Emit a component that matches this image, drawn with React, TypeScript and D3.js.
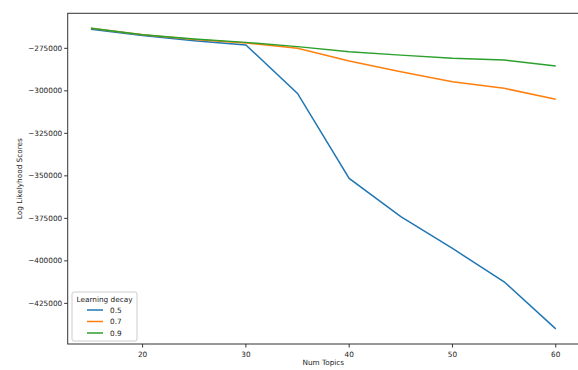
import * as d3 from "d3";

// Log likelihood by number of topics, one line per learning decay.
const numTopics = [15, 20, 25, 30, 35, 40, 45, 50, 55, 60];
const decays = ["0.5", "0.7", "0.9"];
const decay05 = [-263800, -267500, -270500, -273000, -301500, -351500, -374000, -392700, -412300, -440000];
const decay07 = [-263200, -267000, -269800, -271800, -275000, -282500, -288800, -294600, -298500, -305000];
const decay09 = [-263200, -267000, -269500, -271500, -274000, -277000, -279000, -280900, -281900, -285400];
const xTicks = [20, 30, 40, 50, 60];
const yTicks = [-275000, -300000, -325000, -350000, -375000, -400000, -425000];

const COLORS = ["#1f77b4", "#ff7f0e", "#2ca02c"];
const FONT = "DejaVu Sans, sans-serif";

export default function App() {
  const W = 578;
  const H = 370;
  const m = { top: 13.3, right: -1, bottom: 26, left: 67.7 };
  const series = [decay05, decay07, decay09];

  const x = d3.scaleLinear().domain([12.75, 62.25]).range([m.left, W - m.right]);
  const y = d3.scaleLinear().domain([-448900, -254400]).range([H - m.bottom, m.top]);

  const line = d3
    .line<number>()
    .x((_, i) => x(numTopics[i]))
    .y((d) => y(d));

  const fmt = (v: number) => `\u2212${Math.abs(v)}`;
  const bottom = H - m.bottom;

  return (
    <svg
      width={W}
      height={H}
      style={{ position: "absolute", left: 0, top: 0, background: "#fff" }}
      fontFamily={FONT}
    >
      {series.map((s, i) => (
        <path key={i} d={line(s) ?? ""} fill="none" stroke={COLORS[i]} strokeWidth={1.5} />
      ))}

      {/* frame */}
      <rect
        x={m.left}
        y={m.top}
        width={W - m.right - m.left}
        height={bottom - m.top}
        fill="none"
        stroke="#333"
        strokeWidth={1}
      />

      {/* x axis */}
      {xTicks.map((t) => (
        <g key={t} transform={`translate(${x(t)},${bottom})`}>
          <line y2={3.5} stroke="#333" />
          <text y={13} textAnchor="middle" fontSize={7.3} fill="#222">
            {t}
          </text>
        </g>
      ))}
      <text x={(m.left + W - m.right) / 2} y={365} textAnchor="middle" fontSize={7.3} fill="#222">
        Num Topics
      </text>

      {/* y axis */}
      {yTicks.map((t) => (
        <g key={t} transform={`translate(${m.left},${y(t)})`}>
          <line x2={-3.5} stroke="#333" />
          <text x={-5.5} dy="0.35em" textAnchor="end" fontSize={7.3} fill="#222">
            {fmt(t)}
          </text>
        </g>
      ))}
      <text
        transform={`translate(22,${(m.top + bottom) / 2}) rotate(-90)`}
        textAnchor="middle"
        fontSize={7.3}
        fill="#222"
      >
        Log Likelyhood Scores
      </text>

      {/* legend */}
      <g transform="translate(72,292)">
        <rect width={65} height={49} rx={2} fill="#fff" fillOpacity={0.8} stroke="#ccc" />
        <text x={32.5} y={10} textAnchor="middle" fontSize={7.3} fill="#222">
          Learning decay
        </text>
        {decays.map((d, i) => (
          <g key={d} transform={`translate(0,${18 + i * 11.5})`}>
            <line x1={15} x2={31} stroke={COLORS[i]} strokeWidth={1.5} />
            <text x={38} dy="0.35em" fontSize={7.3} fill="#222">
              {d}
            </text>
          </g>
        ))}
      </g>
    </svg>
  );
}
